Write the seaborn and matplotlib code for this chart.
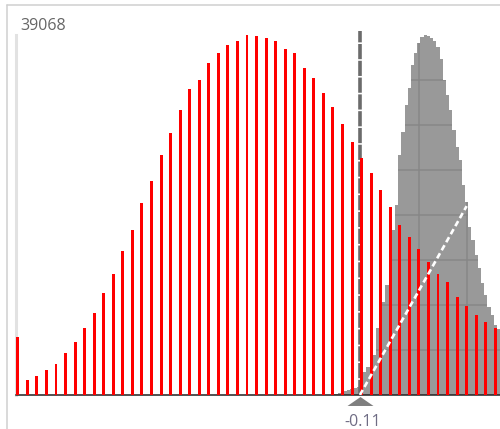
import numpy as np
import pandas as pd
import matplotlib
matplotlib.use("Agg")
import matplotlib.pyplot as plt
import seaborn as sns
from matplotlib.lines import Line2D
from matplotlib.transforms import ScaledTranslation

sns.set_style("white")
plt.rcParams["font.family"] = ["Open Sans", "DejaVu Sans"]

# ---- data -------------------------------------------------------------
# red histogram: one bar per score bin (bin width 0.01, first centre -0.47)
red_start = -0.47
bin_step = 0.01
red_values = [
    6327, 1628, 2062, 2713, 3364, 4525, 5784, 7238, 8866, 11036,
    13131, 15594, 17873, 20836, 23257, 26045, 28465, 30928, 33207, 34151,
    35996, 37114, 37950, 38416, 39068, 38927, 38742, 38416, 37602, 37114,
    35486, 34368, 32740, 31221, 29441, 27488, 25686, 24059, 22247, 20434,
    18481, 17178, 15876, 14433, 13131, 12295, 10667, 9691, 8714, 7889,
    7238,
]

# grey distribution: finer bins (three per red bin), starting at -0.145
gray_start = -0.145
gray_values = [
    54, 87, 130, 184, 271, 380, 543, 597, 760, 922,
    1085, 2496, 3039, 3364, 4341, 7271, 7596, 10092, 11937, 13022,
    17906, 20619, 26045, 28541, 31471, 33316, 35812, 37115, 38199, 38850,
    39068, 38959, 38742, 38416, 37765, 36463, 34184, 32556, 30928, 28758,
    26913, 25502, 22789, 20944, 18231, 16821, 15193, 13782, 12154, 10852,
    9550, 8682, 7596, 7162, 6511,
]

threshold = -0.1118
trend_x = [-0.1118, 0.0]
trend_y = [0, 20500]
grid_x = [-0.10, -0.05, 0.0]

# ---- derived ----------------------------------------------------------
red_centers = np.round(red_start + bin_step * np.arange(len(red_values)), 2)
gray_step = bin_step / 3
gray_edges = gray_start + gray_step * np.arange(len(gray_values) + 1)
gray_centers = (gray_edges[:-1] + gray_edges[1:]) / 2
gray_df = pd.DataFrame({"score": gray_centers, "count": gray_values})
y_top = max(max(red_values), max(gray_values))
bar_frac = 0.314
x_left = red_centers[0] - bar_frac * bin_step / 2
x_right = x_left + 483.7 / 955.0

# ---- figure -----------------------------------------------------------
W, H = 500, 429
fig = plt.figure(figsize=(W / 100, H / 100), dpi=100)
ax = fig.add_axes([16.3 / W, 34 / H, (W - 16.3) / W, 360 / H])

sns.histplot(data=gray_df, x="score", weights="count",
             bins=[float(e) for e in gray_edges],
             element="step", fill=True, color="#999999", alpha=1,
             linewidth=0, ax=ax)
gray_poly = ax.collections[-1]
gray_poly.set_zorder(1)
clip_path = gray_poly.get_paths()[0]

# grid only shows through the grey area
grid_y = np.linspace(0, y_top, 9)[1:-1]
hl = ax.hlines(grid_y, x_left, x_right, colors="#878787", lw=1.1, zorder=1.5)
hl.set_clip_path(clip_path, ax.transData)
vl = ax.vlines(grid_x, 0, y_top, colors="#878787", lw=1.1, zorder=1.5)
vl.set_clip_path(clip_path, ax.transData)

# threshold marker line
ax.axvline(threshold, ymin=0, ymax=1.01, color="#6b6b6b", lw=2.6,
           linestyle=(0, (4.2, 0.45)), clip_on=False, zorder=2)

sns.barplot(x=red_centers, y=red_values, native_scale=True, width=bar_frac,
            color="#ff0000", saturation=1, linewidth=0, errorbar=None,
            ax=ax, zorder=3)

ax.plot(trend_x, trend_y, color="white", lw=1.9,
        linestyle=(0, (2.2, 1.3)), dash_capstyle="butt", zorder=4)

# triangle handle under the threshold
tri = [(-1.45, -0.5), (1.45, -0.5), (0, 0.5), (-1.45, -0.5)]
ax.plot([threshold], [0], marker=tri, ms=18.7, color="#7f7f7f", mew=0,
        linestyle="none", clip_on=False, zorder=6,
        transform=ax.transData + ScaledTranslation(0, -6.0 / 100, fig.dpi_scale_trans))
ax.annotate(f"{threshold:.2f}", xy=(threshold, 0), xytext=(3, -31),
            textcoords="offset pixels", ha="center", va="baseline",
            fontsize=11.5, color="#6f6c84", annotation_clip=False)

fig.text(20.5 / W, 1 - 30 / H, f"{y_top}", ha="left", va="baseline",
         fontsize=11.5, color="#666666")

ax.set_xlim(x_left, x_right)
ax.set_ylim(0, y_top)
ax.set_xlabel("")
ax.set_ylabel("")
ax.set_xticks([])
ax.set_yticks(np.linspace(0, y_top, 9))
ax.tick_params(axis="y", direction="in", length=2, width=0.8,
               color="#cccccc", labelleft=False)
for s in ("top", "right"):
    ax.spines[s].set_visible(False)
ax.spines["left"].set_color("#e2e2e2")
ax.spines["left"].set_linewidth(2.2)
ax.spines["bottom"].set_color("#222222")
ax.spines["bottom"].set_linewidth(1.1)
ax.patch.set_alpha(0)

# outer panel frame
fig.add_artist(Line2D([6.7 / W, 6.7 / W], [0, 1 - 5.3 / H],
                      transform=fig.transFigure, color="#cfcfcf", lw=1.1))
fig.add_artist(Line2D([6.7 / W, 1], [1 - 5.3 / H, 1 - 5.3 / H],
                      transform=fig.transFigure, color="#cfcfcf", lw=1.1))

fig.savefig("out.png", dpi=100)
